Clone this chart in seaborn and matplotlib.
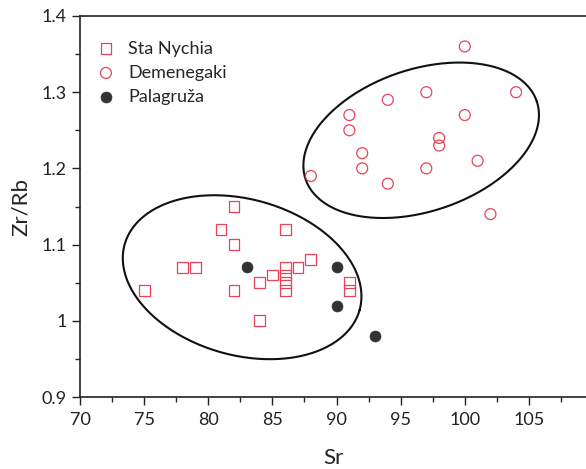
import numpy as np
import pandas as pd
import matplotlib
matplotlib.use('Agg')
import matplotlib.pyplot as plt
import seaborn as sns

# Sta Nychia (open squares)
sn_sr = [75, 78, 79, 81, 82, 82, 82, 84, 84, 85, 86, 86, 86, 86, 86, 87, 88, 91, 91]
sn_zr = [1.04, 1.07, 1.07, 1.12, 1.15, 1.10, 1.04, 1.05, 1.00, 1.06,
         1.12, 1.07, 1.06, 1.05, 1.04, 1.07, 1.08, 1.05, 1.04]

# Demenegaki (open circles)
de_sr = [100, 104, 97, 94, 91, 91, 100, 98, 98, 92, 92, 97, 101, 94, 88, 102]
de_zr = [1.36, 1.30, 1.30, 1.29, 1.27, 1.25, 1.27, 1.24, 1.23, 1.22,
         1.20, 1.20, 1.21, 1.18, 1.19, 1.14]

# Palagruza (filled circles)
pa_sr = [83, 90, 90, 93]
pa_zr = [1.07, 1.07, 1.02, 0.98]

# group ellipses: centre in data units, semi-axes in screen px, tilt in deg
ell_lower = (82.64, 1.0572, 122, 78, -15.6)
ell_upper = (96.60, 1.2369, 122, 71, 18.6)
px_per_x = 12.83   # px per Sr unit
px_per_y = 762.0   # px per Zr/Rb unit

red = '#e8435a'
dark = '#303233'

sns.set_style('ticks')
plt.rcParams['font.family'] = ['Lato', 'DejaVu Sans']

fig = plt.figure(figsize=(5.86, 4.69), dpi=100)
ax = fig.add_axes([0.1365, 0.1535, 0.8635, 0.8124])

df_sn = pd.DataFrame({'Sr': sn_sr, 'Zr/Rb': sn_zr})
df_de = pd.DataFrame({'Sr': de_sr, 'Zr/Rb': de_zr})
df_pa = pd.DataFrame({'Sr': pa_sr, 'Zr/Rb': pa_zr})

sns.scatterplot(data=df_sn, x='Sr', y='Zr/Rb', ax=ax, marker='s', s=60,
                facecolor='none', edgecolor=red, linewidth=0.9,
                label='Sta Nychia', zorder=3)
sns.scatterplot(data=df_de, x='Sr', y='Zr/Rb', ax=ax, marker='o', s=62,
                facecolor='none', edgecolor=red, linewidth=0.9,
                label='Demenegaki', zorder=3)
sns.scatterplot(data=df_pa, x='Sr', y='Zr/Rb', ax=ax, marker='o', s=62,
                color=dark, edgecolor=dark, linewidth=0.5,
                label='Palagruža', zorder=3)

t = np.linspace(0, 2 * np.pi, 300)
for cx, cy, a, b, ang in (ell_lower, ell_upper):
    th = np.deg2rad(ang)
    u, v = a * np.cos(t), b * np.sin(t)
    ex = cx + (u * np.cos(th) - v * np.sin(th)) / px_per_x
    ey = cy + (u * np.sin(th) + v * np.cos(th)) / px_per_y
    ax.plot(ex, ey, color='#111111', lw=1.5, zorder=2)

ax.set_xlim(70, 109.45)
ax.set_ylim(0.9, 1.4)
ax.set_xticks([70, 75, 80, 85, 90, 95, 100, 105])
ax.set_xticks(np.arange(72.5, 110, 5), minor=True)
ax.set_yticks([0.9, 1.0, 1.1, 1.2, 1.3, 1.4])
ax.set_yticklabels(['0.9', '1', '1.1', '1.2', '1.3', '1.4'])
ax.set_yticks([0.95, 1.05, 1.15, 1.25, 1.35], minor=True)
ax.tick_params(which='major', length=6, width=1.0, labelsize=13, colors='#222222')
ax.tick_params(which='minor', length=3.5, width=1.0)
ax.tick_params(axis='x', pad=5)

ax.spines['right'].set_visible(False)
for s in ('left', 'bottom', 'top'):
    ax.spines[s].set_linewidth(1.2)
    ax.spines[s].set_color('#222222')

ax.set_xlabel('Sr', fontsize=16, labelpad=14, color='#222222')
ax.set_ylabel('Zr/Rb', fontsize=16, labelpad=8, color='#222222')

ax.legend(loc='upper left', bbox_to_anchor=(0.012, 0.964), frameon=False,
          fontsize=13, handletextpad=0.75, labelspacing=0.45,
          borderaxespad=0.2, handlelength=1.0)

fig.savefig('out.png', dpi=100)
